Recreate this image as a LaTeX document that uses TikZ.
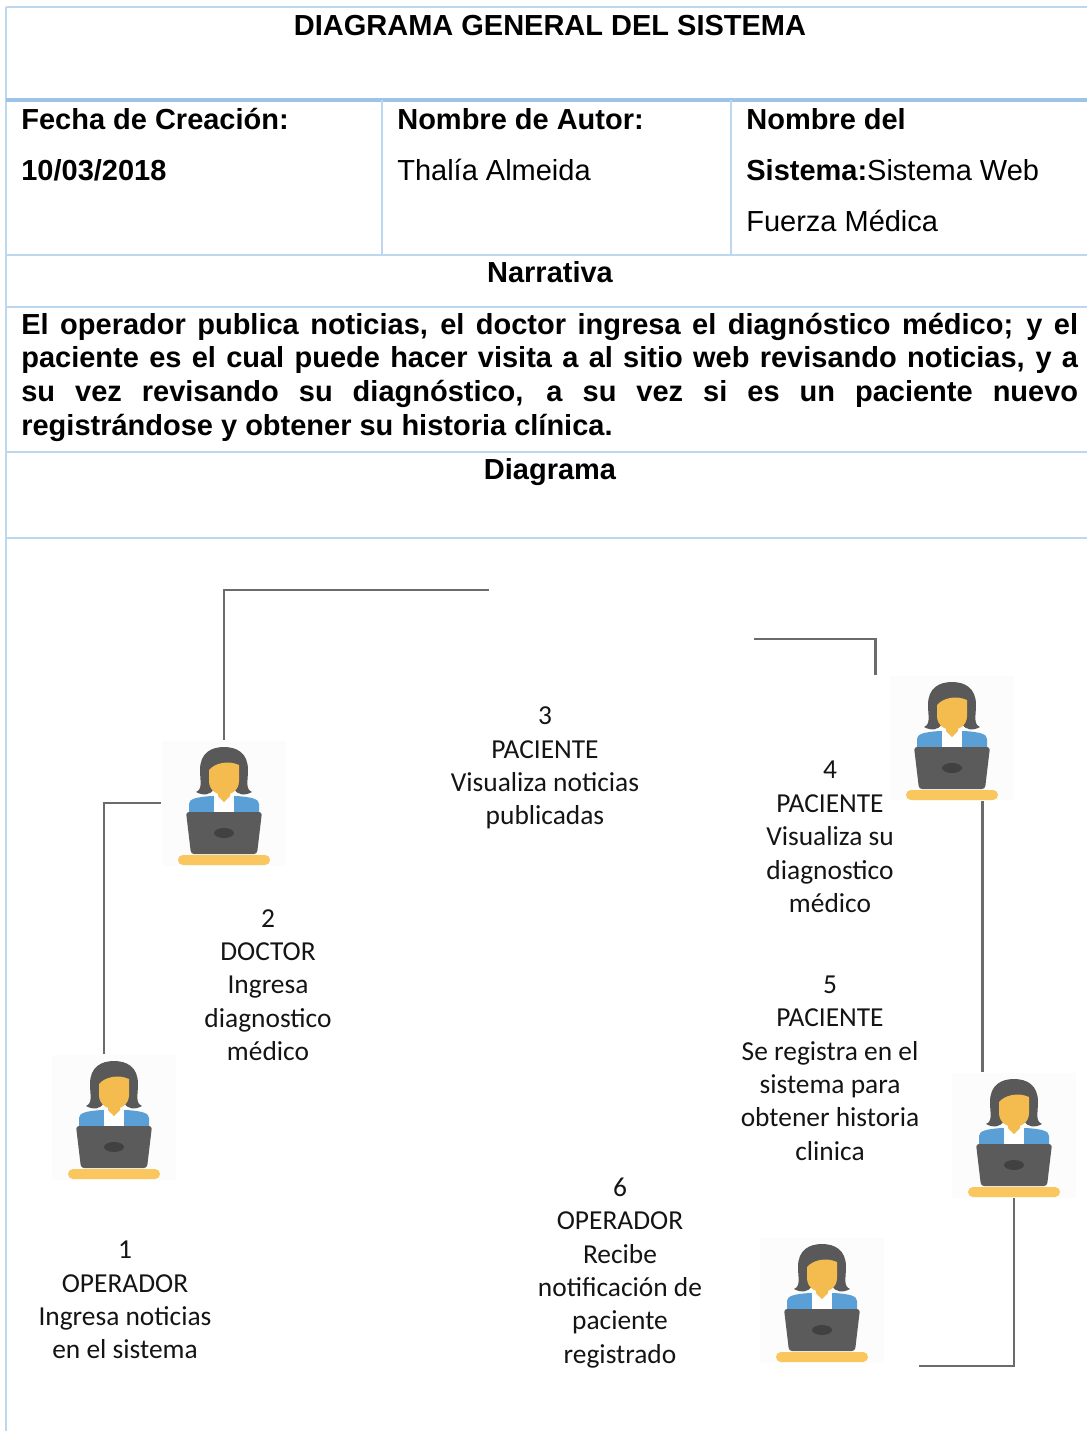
\documentclass[tikz,border=0pt]{standalone}
\usepackage{fontspec}
\setmainfont{Liberation Sans}
\newfontfamily\calibri{Carlito}
\usetikzlibrary{calc}

\definecolor{borde}{HTML}{BDD7EE}
\definecolor{bordeosc}{HTML}{9DC3E6}
\definecolor{linea}{HTML}{6B6B6B}
\definecolor{pelo}{HTML}{595959}
\definecolor{piel}{HTML}{F4BC4E}
\definecolor{camisa}{HTML}{5A9FD6}
\definecolor{portatil}{HTML}{5B5B5B}
\definecolor{logo}{HTML}{414141}
\definecolor{mesa}{HTML}{FAC65E}

% persona con portatil, (0,0) es el centro del icono
\tikzset{
	persona/.pic={
		%pelo
		\fill[pelo] (-28,-11) .. controls (-21,-14) and (-24,-22) .. (-24,-33)
			.. controls (-24,-50) and (-13,-56) .. (0,-56)
			.. controls (13,-56) and (24,-50) .. (24,-33)
			.. controls (24,-22) and (21,-14) .. (28,-11)
			.. controls (21,-7) and (13,-8) .. (10,-14) -- (-10,-14)
			.. controls (-13,-8) and (-21,-7) .. (-28,-11) -- cycle;
		%hombros y camisa
		\fill[camisa] (-35,10) -- (-35,1) .. controls (-35,-4) and (-28,-6) .. (-12,-7)
			-- (12,-7) .. controls (28,-6) and (35,-4) .. (35,1) -- (35,10) -- cycle;
		\fill[white] (-10,-7) -- (10,-7) -- (10,10) -- (-10,10) -- cycle;
		\fill[piel] (-6,-14) -- (6,-14) -- (6,-7) -- (0,-1) -- (-6,-7) -- cycle;
		%cara
		\fill[piel] (-15,-33) .. controls (-9,-40) and (4,-43) .. (15,-38) -- (15,-22)
			.. controls (15,-12) and (6,-8) .. (0,-8)
			.. controls (-6,-8) and (-15,-12) .. (-15,-22) -- cycle;
		%portatil
		\fill[portatil, rounded corners=1.7pt] (-38,9) -- (38,9) -- (33,51) -- (-33,51) -- cycle;
		\fill[logo] (0,30) ellipse [x radius=0.2cm, y radius=0.1cm];
		%mesa
		\fill[mesa, rounded corners=2.8pt] (-46,52) rectangle (46,62);
	}
}

\begin{document}
\begin{tikzpicture}[x=0.02cm, y=-0.02cm,
	celda/.style={inner sep=0, anchor=base west},
	titulo/.style={inner sep=0, anchor=base, font=\bfseries},
	icono/.style={minimum size=2.5cm, inner sep=0, fill=black!1},
	etiqueta/.style={align=center, inner sep=0, text=black!92, font=\calibri\fontsize{15.6}{19}\selectfont},
	conector/.style={draw=linea, line width=1.6pt}]
	\useasboundingbox (0,0) rectangle (1087,1431);
	\fontsize{16.5}{19.3}\selectfont
	%tabla
	\draw[borde, line width=1.1pt] (6,7) -- (6,1431);
	\foreach \y in {7,255,307,452,538}
	\draw[borde, line width=1.1pt] (6,\y) -- (1087,\y);
	\draw[bordeosc, line width=2pt] (6,100) -- (1087,100);
	\foreach \x in {382,731}
	\draw[borde, line width=1.1pt] (\x,100) -- (\x,255);
	%cabecera
	\node[titulo] (titulo) at (550,35) {DIAGRAMA GENERAL DEL SISTEMA};
	\node[celda, font=\bfseries] (fecha) at (21,129) {Fecha de Creación:};
	\node[celda, font=\bfseries] (fechaval) at (21,180) {10/03/2018};
	\node[celda, font=\bfseries] (autor) at (397,129) {Nombre de Autor:};
	\node[celda] (autorval) at (397,180) {Thalía Almeida};
	\node[celda, font=\bfseries] (sistema) at (746,129) {Nombre del};
	\node[celda] (sistemaval) at (746,180) {\textbf{Sistema:}Sistema Web};
	\node[celda] (sistemaval2) at (746,231) {Fuerza Médica};
	\node[titulo] (narrativa) at (550,282) {Narrativa};
	\node[celda, font=\bfseries, text width=21.14cm, align=justify] (texto) at (21,334)
	{El operador publica noticias, el doctor ingresa el diagnóstico médico; y el\linebreak
		paciente es el cual puede hacer visita a al sitio web revisando noticias, y a\linebreak
		su vez revisando su diagnóstico, a su vez si es un paciente nuevo\linebreak
		registrándose y obtener su historia clínica.};
	\node[titulo] (diagrama) at (550,479) {Diagrama};
	%iconos
	\node[icono] (op1) at (114,1117) {};
	\node[icono] (doc2) at (224,803) {};
	\node[icono] (pac4) at (952,738) {};
	\node[icono] (pac5) at (1014,1135) {};
	\node[icono] (op6) at (822,1300) {};
	\foreach \p in {op1,doc2,pac4,pac5,op6}
	\pic at (\p) {persona};
	%textos
	\node[etiqueta] (t1) at (125,1300) {1\\OPERADOR\\Ingresa noticias\\en el sistema};
	\node[etiqueta] (t2) at (268,985) {2\\DOCTOR\\Ingresa\\diagnostico\\médico};
	\node[etiqueta] (t3) at (545,768) {3\\PACIENTE\\Visualiza noticias\\publicadas};
	\node[etiqueta] (t4) at (830,837) {4\\PACIENTE\\Visualiza su\\diagnostico\\médico};
	\node[etiqueta] (t5) at (830,1068) {5\\PACIENTE\\Se registra en el\\sistema para\\obtener historia\\clinica};
	\node[etiqueta] (t6) at (620,1273) {6\\OPERADOR\\Recibe\\notificación de\\paciente\\registrado};
	%conectores
	\coordinate (fin3) at (489,590);
	\coordinate (ini4) at (754,639);
	\coordinate (fin6) at (919,1366);
	\draw[conector] ([xshift=-0.2cm]op1.north) |- (doc2.west);
	\draw[conector] (doc2.north) |- (fin3);
	\draw[conector] (ini4) -| ([xshift=-0.28cm]pac4.north west);
	\draw[conector] ([xshift=0.61cm]pac4.south) -- ([xshift=0.61cm]pac4.south |- pac5.north);
	\draw[conector] (pac5.south) |- (fin6);
\end{tikzpicture}
\end{document}
